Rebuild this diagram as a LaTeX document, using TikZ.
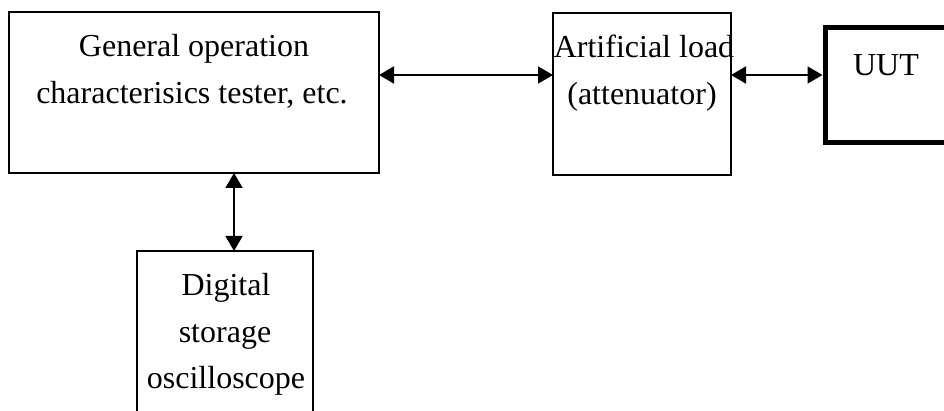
\documentclass[tikz,border=0pt]{standalone}
\usepackage{fontspec}
\setmainfont{Liberation Serif}
\usetikzlibrary{arrows.meta}
\begin{document}
\begin{tikzpicture}[x=1pt,y=-1pt,
  box/.style={draw,line width=1.8pt,inner sep=0pt,outer sep=0pt},
  thickbox/.style={draw,line width=5pt,inner sep=0pt,outer sep=0pt},
  txt/.style={anchor=base,inner sep=0pt,font=\fontsize{32}{47}\selectfont},
  link/.style={line width=1.8pt,{Triangle[length=15pt,width=17pt]}-{Triangle[length=15pt,width=17pt]}}]
\clip (0,0) rectangle (944,411);
% boxes
\node[box,minimum width=370pt,minimum height=161pt] (gen) at (194,92.5) {};
\node[box,minimum width=178pt,minimum height=162pt] (load) at (642,94) {};
\node[thickbox,minimum width=122pt,minimum height=115pt] (uut) at (886,85) {};
\node[box,minimum width=176pt,minimum height=189pt] (dso) at (225,345.5) {};
% texts
\node[txt] (gen1) at (194,57) {General operation};
\node[txt] (gen2) at (192,104) {characterisics tester, etc.};
\node[txt] (load1) at (644,58) {Artificial load};
\node[txt] (load2) at (642,105) {(attenuator)};
\node[txt] (uutt) at (886,76) {UUT};
\node[txt] (dso1) at (226,296) {Digital};
\node[txt] (dso2) at (225,342) {storage};
\node[txt] (dso3) at (226,388) {oscilloscope};
% connectors
\coordinate (a1) at (gen.east |- 0,75);
\coordinate (a2) at (load.west |- 0,75);
\draw[link] (a1) -- (a2);
\coordinate (b1) at (load.east |- 0,75);
\coordinate (b2) at ([xshift=-2.5pt]uut.west |- 0,75);
\draw[link] (b1) -- (b2);
\coordinate (c1) at (gen.south -| 234,0);
\coordinate (c2) at (dso.north -| 234,0);
\draw[link] (c1) -- (c2);
\end{tikzpicture}
\end{document}
